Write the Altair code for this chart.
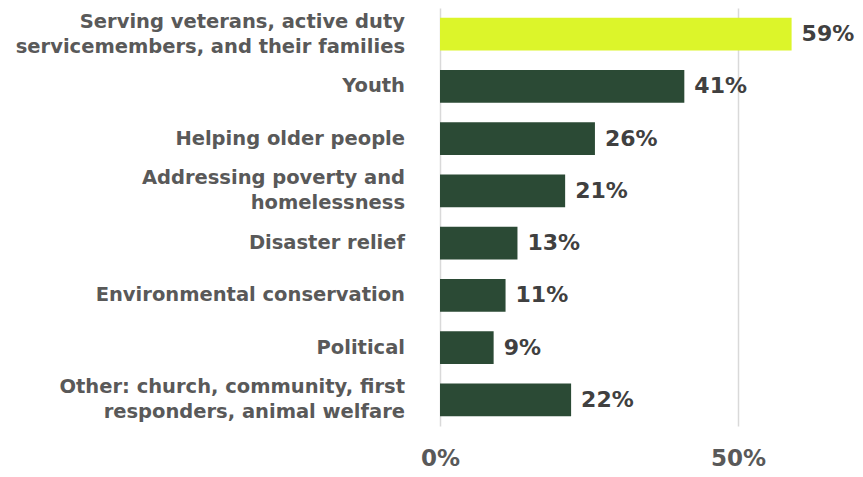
import altair as alt
import pandas as pd

categories = [
    "Serving veterans, active duty|servicemembers, and their families",
    "Youth\u00a0",
    "Helping older people\u00a0",
    "Addressing poverty and|homelessness",
    "Disaster relief\u00a0",
    "Environmental conservation\u00a0",
    "Political\u00a0\u00a0\u00a0",
    "Other: church, community, first|responders, animal welfare",
]
values = [0.59, 0.41, 0.26, 0.21, 0.13, 0.11, 0.09, 0.22]
highlight = ["yes", "no", "no", "no", "no", "no", "no", "no"]

df = pd.DataFrame({"cat": categories, "val": values, "hl": highlight})

FONT = "DejaVu Sans"

y_enc = alt.Y(
    "cat:N",
    sort=categories,
    scale=alt.Scale(paddingInner=0.37, paddingOuter=0.185),
    axis=None,
)

base = alt.Chart(df).encode(
    y=y_enc,
    x=alt.X(
        "val:Q",
        scale=alt.Scale(domain=[0, 0.6964], nice=False),
        axis=alt.Axis(
            title=None,
            values=[0, 0.5],
            format=".0%",
            domain=False,
            ticks=False,
            grid=True,
            gridColor="#d9d9d9",
            gridWidth=1.5,
            labelFont=FONT,
            labelFontSize=23,
            labelFontWeight="bold",
            labelColor="#595959",
            labelPadding=21,
            labelFlush=False,
            labelBound=False,
        ),
    ),
)

bars = base.mark_bar().encode(
    color=alt.Color(
        "hl:N",
        scale=alt.Scale(domain=["yes", "no"], range=["#dcf52a", "#2b4a35"]),
        legend=None,
    )
)

values_text = base.mark_text(
    align="left", baseline="middle", dx=10, font=FONT, fontSize=22,
    fontWeight="bold", color="#404040"
).encode(text=alt.Text("val:Q", format=".0%"))

cat_style = dict(
    align="right", baseline="middle", lineBreak="|", lineHeight=25,
    font=FONT, fontSize=19.5, fontWeight="bold", color="#595959"
)

cat_single = alt.Chart(df).transform_filter(
    "indexof(datum.cat, '|') < 0"
).mark_text(**cat_style).encode(y=y_enc, x=alt.value(-35), text="cat:N")

cat_double = alt.Chart(df).transform_filter(
    "indexof(datum.cat, '|') >= 0"
).mark_text(dy=-12.5, **cat_style).encode(y=y_enc, x=alt.value(-35), text="cat:N")

chart = (
    (bars + values_text + cat_single + cat_double)
    .properties(
        width=415,
        height=418,
        background="white",
        autosize=alt.AutoSizeParams(type="none"),
        padding={"left": 432, "top": 0, "right": 0, "bottom": 43},
    )
    .configure_view(strokeWidth=0, stroke="transparent")
)

chart.save("out.html", embed_options={"renderer": "svg", "actions": False})
